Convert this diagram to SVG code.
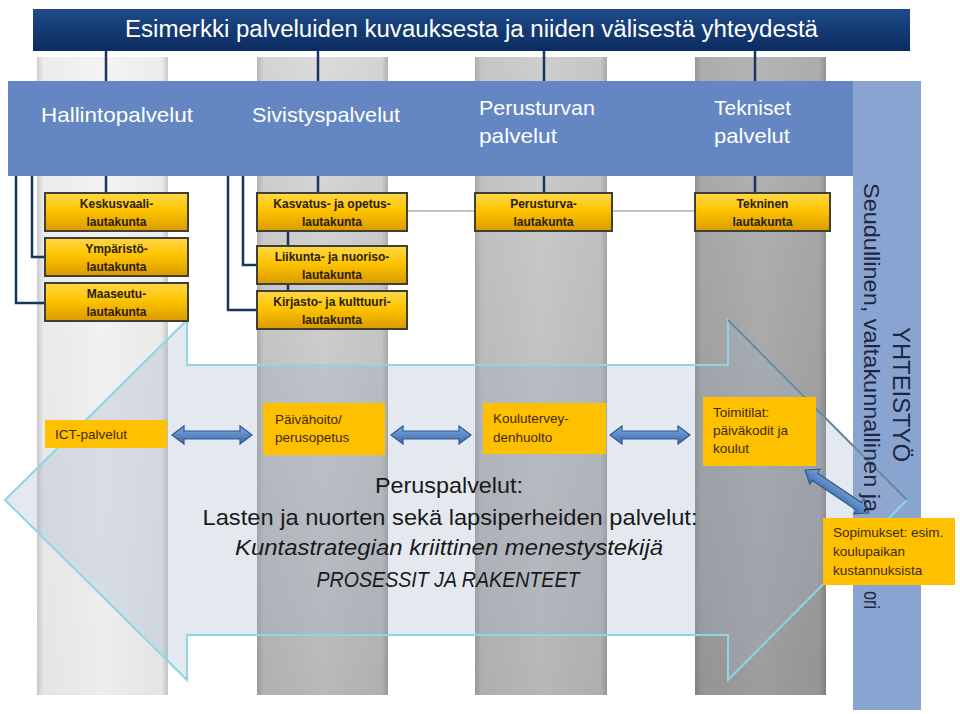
<svg xmlns="http://www.w3.org/2000/svg" width="960" height="714" viewBox="0 0 960 714">
<style>
  text { font-family: "Liberation Sans", Arial, sans-serif; }
  .hdr { fill: #ffffff; font-size: 23.5px; }
  .band { fill: #ffffff; font-size: 21px; }
  .lk { fill: #2b1d00; font-size: 12px; font-weight: bold; text-anchor: middle; }
  .yl { fill: #3d2b00; font-size: 13.5px; }
  .ctr { fill: #1a1a1a; font-size: 22px; text-anchor: middle; }
  .it { font-style: italic; }
  .vt { fill: #1c2740; }
  .navy { stroke: #17375e; stroke-width: 2.5; fill: none; }
  .gray { stroke: #c4c4c4; stroke-width: 2; fill: none; }
  .lkbox { fill: url(#gold); stroke: #3f3f33; stroke-width: 2; }
  .ybox { fill: #ffc000; }
  .dbl { fill: url(#blueArr); stroke: #2f5b93; stroke-width: 1.2; }
</style>
<defs>
  <linearGradient id="hdrG" x1="0" y1="0" x2="0" y2="1">
    <stop offset="0" stop-color="#1f4b8a"/>
    <stop offset="1" stop-color="#0b2b5e"/>
  </linearGradient>
  <linearGradient id="gold" x1="0" y1="0" x2="0" y2="1">
    <stop offset="0" stop-color="#ffd84a"/>
    <stop offset="0.45" stop-color="#ffc400"/>
    <stop offset="1" stop-color="#d99a00"/>
  </linearGradient>
  <linearGradient id="blueArr" x1="0" y1="0" x2="0" y2="1">
    <stop offset="0" stop-color="#7ea6da"/>
    <stop offset="1" stop-color="#3d6cae"/>
  </linearGradient>
  <linearGradient id="c1" x1="0" y1="0" x2="0" y2="1">
    <stop offset="0" stop-color="#f4f4f4"/>
    <stop offset="1" stop-color="#ececec"/>
  </linearGradient>
  <linearGradient id="c2" x1="0" y1="0" x2="0" y2="1">
    <stop offset="0" stop-color="#dadada"/>
    <stop offset="0.5" stop-color="#c8c8c8"/>
    <stop offset="1" stop-color="#b6b6b6"/>
  </linearGradient>
  <linearGradient id="c3" x1="0" y1="0" x2="0" y2="1">
    <stop offset="0" stop-color="#cccccc"/>
    <stop offset="1" stop-color="#b4b4b4"/>
  </linearGradient>
  <linearGradient id="c4" x1="0" y1="0" x2="0" y2="1">
    <stop offset="0" stop-color="#b2b2b2"/>
    <stop offset="1" stop-color="#999999"/>
  </linearGradient>
  <linearGradient id="colEdge" x1="0" y1="0" x2="1" y2="0">
    <stop offset="0" stop-color="#000" stop-opacity="0.16"/>
    <stop offset="0.05" stop-color="#000" stop-opacity="0.03"/>
    <stop offset="0.5" stop-color="#fff" stop-opacity="0.04"/>
    <stop offset="0.95" stop-color="#000" stop-opacity="0.03"/>
    <stop offset="1" stop-color="#000" stop-opacity="0.18"/>
  </linearGradient>
  <path id="dblArrow" d="M0 0 L12 -9 L12 -4 L68 -4 L68 -9 L80 0 L68 9 L68 4 L12 4 L12 9 Z"/>
</defs>

<rect width="960" height="714" fill="#ffffff"/>

<!-- pillars -->
<g id="pillars">
  <rect x="37" y="57" width="131" height="638" fill="url(#c1)"/>
  <rect x="37" y="57" width="131" height="638" fill="url(#colEdge)"/>
  <rect x="257" y="57" width="131" height="638" fill="url(#c2)"/>
  <rect x="257" y="57" width="131" height="638" fill="url(#colEdge)"/>
  <rect x="475" y="57" width="132" height="638" fill="url(#c3)"/>
  <rect x="475" y="57" width="132" height="638" fill="url(#colEdge)"/>
  <rect x="695" y="57" width="131" height="638" fill="url(#c4)"/>
  <rect x="695" y="57" width="131" height="638" fill="url(#colEdge)"/>
</g>

<!-- right collaboration bar -->
<g id="yhteistyo-bar">
  <rect x="853" y="81" width="68" height="629" fill="#8aa4d1"/>
</g>

<!-- service band -->
<g id="service-band">
  <rect x="8" y="81" width="845" height="95" fill="#6486c2"/>
</g>

<!-- header -->
<g id="header">
  <rect x="33" y="9" width="877" height="42" fill="url(#hdrG)"/>
  <text class="hdr" x="125" y="37" textLength="693" lengthAdjust="spacingAndGlyphs">Esimerkki palveluiden kuvauksesta ja niiden välisestä yhteydestä</text>
</g>

<!-- connectors -->
<g id="connectors">
  <path class="navy" d="M106 51 V81 M318 51 V81 M544 51 V81 M755 51 V81"/>
  <path class="navy" d="M106 176 V193 M318 176 V193 M544 176 V193 M755 176 V193"/>
  <path class="navy" d="M32 176 V257 H45 M16 176 V303 H45"/>
  <path class="navy" d="M243 176 V265 H257 M228 176 V310 H257"/>
  <path class="navy" d="M288 231 V246 M288 284 V291"/>
  <path class="gray" d="M407 211 H475 M612 211 H695"/>
</g>

<!-- big double block arrow -->
<g id="peruspalvelut-arrow">
  <path d="M5 500 L187 320 L187 365 L728 365 L728 320 L907 500 L728 680 L728 635 L187 635 L187 680 Z" fill="#9fb0c8" fill-opacity="0.28" stroke="#8fd6e2" stroke-width="2"/>
  <path d="M728 320 L907 500" stroke="#5a6f82" stroke-width="1.8" stroke-opacity="0.8" fill="none"/>
</g>

<!-- band labels -->
<g id="hallintopalvelut">
  <text class="band" x="41" y="122" textLength="152" lengthAdjust="spacingAndGlyphs">Hallintopalvelut</text>
</g>
<g id="sivistyspalvelut">
  <text class="band" x="252" y="122" textLength="148" lengthAdjust="spacingAndGlyphs">Sivistyspalvelut</text>
</g>
<g id="perusturvan-palvelut">
  <text class="band" x="479" y="115" textLength="116" lengthAdjust="spacingAndGlyphs">Perusturvan</text>
  <text class="band" x="479" y="143" textLength="78" lengthAdjust="spacingAndGlyphs">palvelut</text>
</g>
<g id="tekniset-palvelut">
  <text class="band" x="714" y="115" textLength="77" lengthAdjust="spacingAndGlyphs">Tekniset</text>
  <text class="band" x="714" y="143" textLength="76" lengthAdjust="spacingAndGlyphs">palvelut</text>
</g>

<!-- boards -->
<g id="keskusvaalilautakunta">
  <rect class="lkbox" x="45" y="193" width="143" height="38"/>
  <text class="lk" x="116.5" y="208">Keskusvaali-</text>
  <text class="lk" x="116.5" y="226">lautakunta</text>
</g>
<g id="ymparistolautakunta">
  <rect class="lkbox" x="45" y="238" width="143" height="38"/>
  <text class="lk" x="116.5" y="253">Ympäristö-</text>
  <text class="lk" x="116.5" y="271">lautakunta</text>
</g>
<g id="maaseutulautakunta">
  <rect class="lkbox" x="45" y="283" width="143" height="38"/>
  <text class="lk" x="116.5" y="298">Maaseutu-</text>
  <text class="lk" x="116.5" y="316">lautakunta</text>
</g>
<g id="kasvatus-ja-opetuslautakunta">
  <rect class="lkbox" x="257" y="193" width="150" height="38"/>
  <text class="lk" x="332" y="208">Kasvatus- ja opetus-</text>
  <text class="lk" x="332" y="226">lautakunta</text>
</g>
<g id="liikunta-ja-nuorisolautakunta">
  <rect class="lkbox" x="257" y="246" width="150" height="38"/>
  <text class="lk" x="332" y="261">Liikunta- ja nuoriso-</text>
  <text class="lk" x="332" y="279">lautakunta</text>
</g>
<g id="kirjasto-ja-kulttuurilautakunta">
  <rect class="lkbox" x="257" y="291" width="150" height="38"/>
  <text class="lk" x="332" y="306">Kirjasto- ja kulttuuri-</text>
  <text class="lk" x="332" y="324">lautakunta</text>
</g>
<g id="perusturvalautakunta">
  <rect class="lkbox" x="475" y="193" width="137" height="38"/>
  <text class="lk" x="543.5" y="208">Perusturva-</text>
  <text class="lk" x="543.5" y="226">lautakunta</text>
</g>
<g id="tekninen-lautakunta">
  <rect class="lkbox" x="695" y="193" width="135" height="38"/>
  <text class="lk" x="762.5" y="208">Tekninen</text>
  <text class="lk" x="762.5" y="226">lautakunta</text>
</g>

<!-- service boxes -->
<g id="ict-palvelut">
  <rect class="ybox" x="45" y="420" width="122" height="28"/>
  <text class="yl" x="55" y="439">ICT-palvelut</text>
</g>
<g id="paivahoito-perusopetus">
  <rect class="ybox" x="263" y="403" width="122" height="52"/>
  <text class="yl" x="275" y="424">Päivähoito/</text>
  <text class="yl" x="275" y="442">perusopetus</text>
</g>
<g id="kouluterveydenhuolto">
  <rect class="ybox" x="483" y="403" width="123" height="51"/>
  <text class="yl" x="493" y="423">Koulutervey-</text>
  <text class="yl" x="493" y="442">denhuolto</text>
</g>
<g id="toimitilat">
  <rect class="ybox" x="703" y="397" width="113" height="69"/>
  <text class="yl" x="713" y="417">Toimitilat:</text>
  <text class="yl" x="713" y="435">päiväkodit ja</text>
  <text class="yl" x="713" y="453">koulut</text>
</g>

<!-- small connectors -->
<g id="service-links">
  <use href="#dblArrow" class="dbl" transform="translate(172,435)"/>
  <use href="#dblArrow" class="dbl" transform="translate(391,435)"/>
  <use href="#dblArrow" class="dbl" transform="translate(610,435)"/>
  <path class="dbl" transform="translate(805,470) rotate(34)" d="M0 0 L12 -9 L12 -4.5 L65 -4.5 L65 -9 L77 0 L65 9 L65 4.5 L12 4.5 L12 9 Z"/>
</g>

<!-- center text -->
<g id="peruspalvelut-text">
  <text class="ctr" x="449" y="493" textLength="148" lengthAdjust="spacingAndGlyphs">Peruspalvelut:</text>
  <text class="ctr" x="450" y="525" textLength="495" lengthAdjust="spacingAndGlyphs">Lasten ja nuorten sekä lapsiperheiden palvelut:</text>
  <text class="ctr it" x="449" y="555" textLength="428" lengthAdjust="spacingAndGlyphs">Kuntastrategian kriittinen menestystekijä</text>
  <text class="ctr it" x="448" y="587" font-size="23" textLength="263" lengthAdjust="spacingAndGlyphs">PROSESSIT JA RAKENTEET</text>
</g>

<!-- vertical texts -->
<g id="yhteistyo-text">
  <text class="vt" font-size="24" transform="translate(893,327) rotate(90)" textLength="135" lengthAdjust="spacingAndGlyphs">YHTEISTYÖ</text>
  <text class="vt" font-size="22" transform="translate(864,183) rotate(90)" textLength="329" lengthAdjust="spacingAndGlyphs">Seudullinen, valtakunnallinen ja</text>
  <text class="vt" font-size="22" transform="translate(864,591) rotate(90)" textLength="18" lengthAdjust="spacingAndGlyphs">ori</text>
</g>

<g id="sopimukset">
  <rect class="ybox" x="823" y="518" width="132" height="67"/>
  <text class="yl" x="833" y="537">Sopimukset: esim.</text>
  <text class="yl" x="833" y="556">koulupaikan</text>
  <text class="yl" x="833" y="575">kustannuksista</text>
</g>
</svg>
